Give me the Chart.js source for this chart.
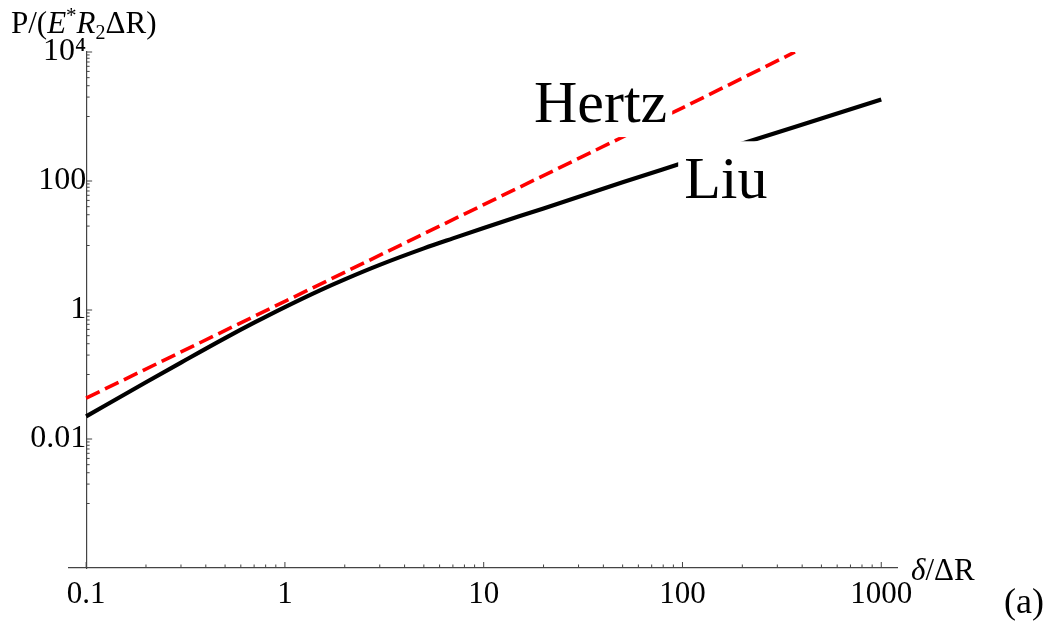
<!DOCTYPE html>
<html>
<head>
<meta charset="utf-8">
<title>Hertz vs Liu</title>
<script src="https://cdn.jsdelivr.net/npm/chart.js@4.4.0/dist/chart.umd.min.js"></script>
<style>
  html, body { margin: 0; padding: 0; background: #fff; }
</style>
</head>
<body>
<canvas id="plot" width="1055" height="623"></canvas>
<script>
const hertzDelta = [0.1, 1, 10, 100, 368];
const hertzLoad = [0.043, 1.36, 43, 1360, 10000];

const liuDelta = [0.1, 0.2, 0.3, 0.5, 0.7, 1, 1.5, 2, 3, 5, 7, 10, 20, 50, 100, 200, 500, 1000];
const liuLoad = [0.0224, 0.0759, 0.153, 0.366, 0.635, 1.11, 2.02, 2.99, 5.01, 9.02, 12.9, 18.7, 37.6, 95.5, 190.5, 380, 933, 1841];

const xMajorTicks = [0.1, 1, 10, 100, 1000];
const xTickLabels = ['0.1', '1', '10', '100', '1000'];
const yMajorTicks = [0.01, 1, 100, 10000];
const yTickLabels = ['0.01', '1', '100', '10⁴'];

const curveNames = ['Hertz', 'Liu'];
const nameDelta = [17.9, 102];
const nameLoad = [820, 54];

const serif = '"Liberation Serif", "Times New Roman", serif';

function toPoints(xs, ys) {
    return xs.map((x, i) => ({ x: x, y: ys[i] }));
}

function minorTicks(majors, from, to) {
    let out = [];
    majors.forEach(m => {
        for (let j = from; j <= to; j++) out.push(m * j);
    });
    return out;
}

// ticks point into the plot, like the original
const axisTicks = {
    id: 'axisTicks',
    afterDraw(chart) {
        const ctx = chart.ctx, xs = chart.scales.x, ys = chart.scales.y;
        const axisY = xs.top;
        const axisX = xs.getPixelForValue(0.1);
        ctx.save();
        ctx.strokeStyle = '#444';
        ctx.lineWidth = 1;
        ctx.beginPath();
        const xMinor = minorTicks([0.1, 1, 10, 100], 2, 9);
        xMajorTicks.forEach(v => { const p = xs.getPixelForValue(v); ctx.moveTo(p, axisY); ctx.lineTo(p, axisY - 6); });
        xMinor.forEach(v => {
            if (v > xs.max) return;
            const p = xs.getPixelForValue(v); ctx.moveTo(p, axisY); ctx.lineTo(p, axisY - 3.5);
        });
        const yMinor = minorTicks(yMajorTicks.map(m => m / 10), 1, 9);
        yMajorTicks.forEach(v => { const p = ys.getPixelForValue(v); ctx.moveTo(axisX, p); ctx.lineTo(axisX + 6, p); });
        yMinor.forEach(v => {
            if (v > ys.max) return;
            const p = ys.getPixelForValue(v); ctx.moveTo(axisX, p); ctx.lineTo(axisX + 3.5, p);
        });
        ctx.stroke();
        ctx.restore();
    }
};

const curveLabels = {
    id: 'curveLabels',
    afterDatasetsDraw(chart) {
        const ctx = chart.ctx, xs = chart.scales.x, ys = chart.scales.y;
        ctx.save();
        ctx.font = '60px ' + serif;
        ctx.textBaseline = 'alphabetic';
        curveNames.forEach((name, i) => {
            const x = xs.getPixelForValue(nameDelta[i]);
            const y = ys.getPixelForValue(nameLoad[i]);
            const w = ctx.measureText(name).width;
            ctx.fillStyle = '#fff';
            ctx.fillRect(x - 6, y - 57, w + 11, 72);
            ctx.fillStyle = '#000';
            ctx.fillText(name, x, y);
        });
        ctx.restore();
    }
};

function drawPieces(ctx, pieces, x, y) {
    pieces.forEach(p => {
        ctx.font = (p.italic ? 'italic ' : '') + p.size + 'px ' + serif;
        ctx.fillText(p.t, x, y + (p.dy || 0));
        x += ctx.measureText(p.t).width + (p.gap || 0);
    });
}

const axisTitles = {
    id: 'axisTitles',
    afterDraw(chart) {
        const ctx = chart.ctx;
        ctx.save();
        ctx.fillStyle = '#000';
        ctx.textBaseline = 'alphabetic';
        drawPieces(ctx, [
            { t: 'P/(', size: 31 },
            { t: 'E', size: 31, italic: true },
            { t: '*', size: 21, dy: -11 },
            { t: 'R', size: 31, italic: true },
            { t: '2', size: 20, dy: 6 },
            { t: 'ΔR)', size: 31 }
        ], 11, 33);
        drawPieces(ctx, [
            { t: 'δ', size: 31, italic: true },
            { t: '/ΔR', size: 31 }
        ], 911, 580);
        drawPieces(ctx, [{ t: '(a)', size: 36 }], 1004, 613);
        ctx.restore();
    }
};

function tickLabel(values, labels) {
    return function(value) {
        const i = values.indexOf(value);
        return i >= 0 ? labels[i] : '';
    };
}

new Chart(document.getElementById('plot'), {
    type: 'line',
    data: {
        datasets: [
            {
                label: 'Liu',
                data: toPoints(liuDelta, liuLoad),
                borderColor: '#000',
                borderWidth: 4.2,
                pointRadius: 0,
                cubicInterpolationMode: 'monotone'
            },
            {
                label: 'Hertz',
                data: toPoints(hertzDelta, hertzLoad),
                borderColor: '#ff0000',
                borderWidth: 3.6,
                borderDash: [15, 6],
                pointRadius: 0
            }
        ]
    },
    options: {
        responsive: false,
        animation: false,
        devicePixelRatio: 1,
        layout: { padding: { left: 69, right: 158, top: 52, bottom: 10 } },
        plugins: { legend: { display: false }, tooltip: { enabled: false } },
        scales: {
            x: {
                type: 'logarithmic',
                position: 'bottom',
                min: 0.082,
                max: 1200,
                grid: { display: false, drawTicks: false },
                border: { display: true, color: '#444', width: 1.2 },
                ticks: {
                    autoSkip: false,
                    maxRotation: 0,
                    padding: 8,
                    color: '#000',
                    font: { family: serif, size: 31 },
                    callback: tickLabel(xMajorTicks, xTickLabels)
                },
                afterBuildTicks: s => { s.ticks = xMajorTicks.map(v => ({ value: v })); },
                afterFit: s => { s.height = 45; }
            },
            y: {
                type: 'logarithmic',
                position: { x: 0.1 },
                min: 0.0001,
                max: 10000,
                grid: { display: false, drawTicks: false },
                border: { display: true, color: '#444', width: 1.2 },
                ticks: {
                    autoSkip: false,
                    padding: 7,
                    color: '#000',
                    font: { family: serif, size: 32 },
                    callback: tickLabel(yMajorTicks, yTickLabels)
                },
                afterBuildTicks: s => { s.ticks = yMajorTicks.map(v => ({ value: v })); }
            }
        }
    },
    plugins: [axisTicks, curveLabels, axisTitles]
});
</script>
</body>
</html>
